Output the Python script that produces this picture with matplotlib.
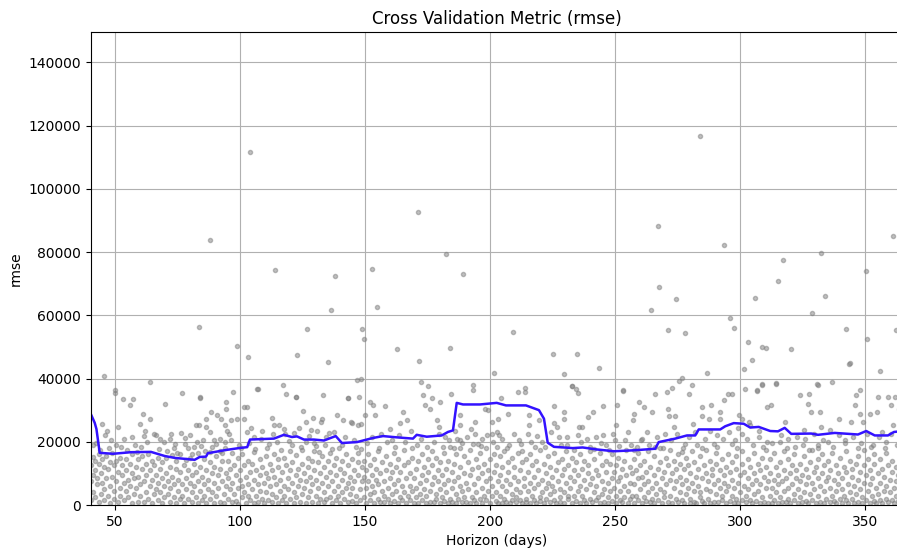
import matplotlib
matplotlib.use("Agg")
import matplotlib.pyplot as plt
import numpy as np

# Rolling rmse along the horizon (days, rmse in thousands)
horizon_days = [40.5, 41.9, 42.6, 43.9, 49.2, 56.4, 64.4, 69.9, 73.9, 81.9, 83.9, 86.4,
                87.2, 94.4, 99.6, 102.9, 104.0, 113.6, 117.6, 120.8, 122.8, 125.6, 129.6,
                133.6, 138.3, 140.8, 146.8, 153.2, 157.2, 162.7, 169.2, 170.7, 174.7,
                180.7, 183.2, 185.2, 186.7, 189.2, 196.0, 202.7, 206.4, 214.4, 219.6,
                221.6, 223.1, 225.6, 233.1, 237.1, 242.4, 249.6, 257.6, 262.8, 266.1,
                267.5, 274.1, 278.8, 282.1, 283.5, 292.1, 294.1, 297.5, 301.5, 304.1,
                307.5, 312.1, 315.2, 317.9, 320.5, 328.5, 331.2, 337.9, 347.2, 350.5,
                353.9, 359.2, 361.6, 364.0]
rolling_rmse_k = [28.5, 26.0, 24.0, 16.5, 16.2, 16.7, 16.8, 15.5, 14.9, 14.3, 15.2, 15.3,
                  16.4, 17.4, 18.0, 18.3, 20.7, 21.0, 22.2, 21.5, 21.7, 20.7, 20.7,
                  20.4, 21.8, 19.6, 19.9, 21.2, 21.8, 21.4, 21.0, 22.2, 21.6,
                  22.0, 23.1, 23.6, 32.3, 31.8, 31.8, 32.3, 31.5, 31.5, 30.0,
                  27.3, 19.7, 18.4, 18.0, 18.2, 17.6, 17.0, 17.3, 17.6, 17.8,
                  19.9, 21.0, 22.0, 22.0, 23.9, 23.9, 24.9, 25.9, 25.7, 24.5,
                  24.7, 23.4, 23.3, 24.4, 22.5, 22.6, 22.2, 22.8, 22.3, 23.4,
                  22.0, 22.0, 23.1, 23.3]

# Individual rmse values, lower band: (horizon, [rmse in thousands])
low_a = [
    (40.5, [1.5, 7.5, 12.8]), (41.2, [4.0, 9.5, 15.2]), (42.0, [2.5, 11.0, 14.0]),
    (42.8, [6.5, 8.5]), (43.5, [0.8, 13.0, 16.0]), (44.3, [3.5, 10.0]), (45.0, [7.0, 14.5]),
    (45.8, [1.5, 5.0, 12.0]), (46.6, [8.5, 15.5]), (47.4, [3.0, 11.5]), (48.2, [0.5, 6.0, 13.5]),
    (49.0, [9.0, 16.5]), (49.8, [2.0, 4.5, 12.5]), (50.6, [7.5, 14.0]), (51.4, [0.8, 10.5]),
    (52.2, [5.5, 15.0, 3.0]), (53.0, [9.5, 12.5]), (53.8, [1.5, 7.0]), (54.6, [4.5, 11.0, 14.5]),
    (55.4, [8.0, 2.5]), (56.2, [6.0, 13.0]), (57.0, [0.5, 10.0, 16.0]), (57.8, [3.5, 8.5]),
    (58.6, [12.0, 5.5]), (59.4, [1.0, 14.5, 9.0]), (60.2, [6.5, 3.0]), (61.0, [11.5, 15.5]),
    (61.8, [0.8, 7.5]), (62.6, [4.0, 13.0, 9.5]), (63.4, [2.0, 16.0]), (64.2, [6.0, 11.0]),
    (65.0, [0.5, 8.0, 14.0]), (65.8, [3.5, 12.5]), (66.6, [5.0, 9.5]), (67.4, [1.5, 15.0, 7.0]),
    (68.2, [11.5, 4.0]), (69.0, [0.7, 8.5, 13.5]), (69.8, [6.0, 2.5]), (70.6, [10.0, 14.8]),
    (71.4, [3.5, 7.5]), (72.2, [1.0, 12.0, 5.5]), (73.0, [9.0, 15.8]), (73.8, [2.5, 6.5]),
    (74.6, [0.5, 11.5, 13.8]), (75.4, [4.5, 8.0]), (76.2, [1.8, 10.5, 16.2]), (77.0, [6.5, 3.0]),
    (77.8, [12.5, 0.6]), (78.6, [8.5, 5.0, 14.2]), (79.4, [2.0, 11.0]), (80.2, [7.0, 15.0]),
    (81.0, [0.8, 4.0, 9.5]), (81.8, [13.0, 6.0]), (82.6, [2.5, 10.5]), (83.4, [0.5, 7.5, 16.5]),
    (84.2, [4.5, 12.0]), (85.0, [1.5, 9.0]), (85.8, [6.5, 14.5, 3.0]), (86.6, [11.0, 0.7]),
    (87.4, [5.0, 8.0]), (88.2, [2.0, 13.5, 16.8]), (89.0, [10.0, 4.0]), (89.8, [0.5, 7.0, 12.0]),
    (90.6, [15.5, 3.0]), (91.4, [5.5, 9.5]), (92.2, [1.0, 11.5, 17.0]), (93.0, [7.5, 14.0]),
    (93.8, [3.5, 0.6]), (94.6, [10.0, 6.0]),
]
low_b = [
    (95.3, [2.0, 8.5, 14.0]), (96.1, [5.0, 11.5]), (96.9, [0.8, 7.0, 16.5]), (97.7, [3.5, 12.5]),
    (98.5, [9.5, 1.2]), (99.3, [5.5, 14.8, 0.4]), (100.1, [8.0, 11.0]), (100.9, [2.5, 6.0, 16.0]),
    (101.7, [12.5, 4.0]), (102.5, [0.7, 9.0]), (103.3, [6.5, 14.0, 3.0]), (104.1, [10.5, 1.5]),
    (104.9, [5.0, 13.0]), (105.7, [0.5, 8.0, 16.8]), (106.5, [3.0, 11.0]), (107.3, [6.5, 1.0]),
    (108.1, [9.5, 14.5, 4.5]), (108.9, [2.0, 12.0]), (109.7, [7.0, 0.6]), (110.5, [4.0, 10.0, 15.5]),
    (111.3, [1.5, 8.5]), (112.1, [6.0, 13.0]), (112.9, [0.8, 3.5, 11.0]), (113.7, [9.0, 16.0]),
    (114.5, [2.5, 6.5]), (115.3, [12.0, 0.5, 14.5]), (116.1, [4.5, 8.0]), (116.9, [1.5, 10.5]),
    (117.7, [6.0, 15.0, 3.0]), (118.5, [0.7, 12.5]), (119.3, [8.5, 5.0]), (120.1, [2.0, 11.0, 17.0]),
    (120.9, [7.0, 13.5]), (121.7, [0.5, 4.0]), (122.5, [9.5, 15.8, 2.5]), (123.3, [6.0, 11.5]),
    (124.1, [1.0, 8.0]), (124.9, [3.5, 13.0, 17.5]), (125.7, [10.0, 5.5]), (126.5, [0.6, 7.5]),
    (127.3, [2.5, 12.0, 15.0]), (128.1, [9.0, 4.5]), (128.9, [1.0, 6.5, 14.0]), (129.7, [11.0, 17.2]),
    (130.5, [3.0, 8.0]), (131.3, [0.5, 5.5, 13.5]), (132.1, [10.0, 2.0]), (132.9, [7.0, 15.5]),
    (133.7, [4.0, 12.0, 0.8]), (134.5, [9.0, 1.8]), (135.3, [6.0, 14.0]), (136.1, [2.5, 10.5, 16.5]),
    (136.9, [0.6, 7.5]), (137.7, [4.5, 12.5]), (138.5, [1.5, 9.5, 15.0]), (139.3, [6.0, 3.0]),
    (140.1, [11.5, 0.5]), (140.9, [8.0, 14.0, 4.0]), (141.7, [2.0, 10.0]), (142.5, [5.5, 16.0]),
    (143.3, [0.8, 7.0, 12.5]), (144.1, [3.5, 9.0]), (144.9, [1.2, 14.5, 5.5]), (145.7, [11.0, 7.5]),
    (146.5, [0.5, 3.0]), (147.3, [9.5, 13.5, 16.5]), (148.1, [5.0, 1.5]), (148.9, [7.5, 12.0]),
]
low_c = [
    (149.7, [2.5, 9.0, 14.0]), (150.5, [0.6, 5.5, 11.0]), (151.3, [7.5, 16.0]), (152.1, [1.5, 3.5, 12.5]),
    (152.9, [9.5, 6.0]), (153.7, [0.5, 14.5, 4.0]), (154.5, [8.0, 11.5]), (155.3, [2.0, 6.5, 17.0]),
    (156.1, [10.0, 1.0]), (156.9, [4.5, 13.5]), (157.7, [0.8, 7.5, 3.0]), (158.5, [11.0, 15.5]),
    (159.3, [5.5, 1.8]), (160.1, [8.5, 13.0, 0.5]), (160.9, [3.5, 10.5]), (161.7, [6.5, 16.5, 1.2]),
    (162.5, [12.0, 4.5]), (163.3, [0.6, 8.0, 14.5]), (164.1, [2.5, 10.5]), (164.9, [6.0, 1.5]),
    (165.7, [12.5, 4.0, 17.5]), (166.5, [8.5, 0.5]), (167.3, [3.0, 13.5]), (168.1, [10.0, 6.0, 1.5]),
    (168.9, [15.0, 4.5]), (169.7, [0.7, 8.5]), (170.5, [2.5, 11.5, 5.5]), (171.3, [14.0, 0.5]),
    (172.1, [7.0, 3.5]), (172.9, [9.5, 16.0, 1.5]), (173.7, [5.0, 12.0]), (174.5, [0.6, 8.0, 2.8]),
    (175.3, [14.5, 10.5]), (176.1, [4.5, 1.0]), (176.9, [6.5, 12.5, 17.0]), (177.7, [0.8, 9.0]),
    (178.5, [3.5, 15.0, 1.8]), (179.3, [7.5, 11.0]), (180.1, [0.5, 5.0, 13.5]), (180.9, [2.5, 9.5]),
    (181.7, [16.5, 6.5, 1.2]), (182.5, [11.5, 4.0]), (183.3, [0.7, 8.0, 14.0]), (184.1, [2.0, 18.5]),
    (184.9, [5.5, 10.5, 1.0]), (185.7, [13.0, 7.5]), (186.5, [0.5, 3.5, 16.0]), (187.3, [9.0, 1.8]),
    (188.1, [6.0, 12.0, 18.0]), (188.9, [0.8, 4.5]), (189.7, [10.0, 15.5, 2.5]), (190.5, [7.0, 1.0]),
    (191.3, [13.5, 5.0]), (192.1, [0.6, 9.5, 17.5]), (192.9, [2.5, 11.5]), (193.7, [6.5, 1.5]),
    (194.5, [14.5, 4.0, 0.5]), (195.3, [8.5, 12.0]), (196.1, [2.0, 16.5]), (196.9, [5.5, 10.0, 0.7]),
    (197.7, [13.0, 3.0]), (198.5, [7.5, 1.5, 18.0]), (199.3, [11.0, 4.5]), (200.1, [0.6, 8.5, 14.5]),
    (200.9, [2.8, 6.0]), (201.7, [16.0, 10.5]), (202.5, [1.2, 4.0, 12.5]), (203.3, [7.5, 0.5]),
]
low_d = [
    (204.1, [3.0, 9.5, 15.5]), (204.9, [0.6, 6.0, 12.0]), (205.7, [2.0, 17.0]), (206.5, [8.0, 4.5, 1.0]),
    (207.3, [13.5, 10.5]), (208.1, [0.5, 6.5]), (208.9, [3.5, 15.0, 1.5]), (209.7, [9.0, 12.0]),
    (210.5, [0.8, 5.0, 2.5]), (211.3, [16.5, 7.5]), (212.1, [1.5, 11.0, 4.0]), (212.9, [13.5, 0.5]),
    (213.7, [8.5, 6.0]), (214.5, [2.0, 14.5, 1.0]), (215.3, [10.5, 4.5]), (216.1, [0.6, 7.0, 16.0]),
    (216.9, [3.0, 12.5]), (217.7, [1.5, 9.0, 5.5]), (218.5, [14.0, 0.7]), (219.3, [6.5, 11.0]),
    (220.1, [2.5, 17.5, 1.2]), (220.9, [8.0, 4.0]), (221.7, [0.5, 13.0]), (222.5, [5.5, 10.0, 2.0]),
    (223.3, [15.5, 7.0]), (224.1, [0.8, 3.5, 12.0]), (224.9, [9.0, 6.0]), (225.7, [1.5, 16.5, 4.5]),
    (226.5, [11.0, 0.5]), (227.3, [7.5, 13.5]), (228.1, [2.5, 5.0, 1.0]), (228.9, [9.5, 14.5]),
    (229.7, [0.6, 4.0, 11.5]), (230.5, [7.0, 17.0]), (231.3, [1.8, 12.5, 3.0]), (232.1, [5.5, 9.0]),
    (232.9, [0.5, 15.0]), (233.7, [2.8, 7.5, 11.0]), (234.5, [13.5, 1.2]), (235.3, [4.5, 9.5]),
    (236.1, [0.7, 6.0, 16.0]), (236.9, [11.5, 3.0]), (237.7, [8.0, 14.0, 1.5]), (238.5, [5.0, 0.5]),
    (239.3, [10.0, 12.5]), (240.1, [2.0, 6.5, 17.0]), (240.9, [0.8, 8.5]), (241.7, [4.0, 14.5]),
    (242.5, [11.0, 1.5, 6.0]), (243.3, [2.5, 9.5]), (244.1, [16.5, 0.5]), (244.9, [7.5, 12.5, 3.5]),
    (245.7, [5.0, 1.0]), (246.5, [10.5, 14.0]), (247.3, [0.6, 7.0, 2.5]), (248.1, [13.0, 4.5]),
    (248.9, [8.5, 16.0, 1.2]), (249.7, [5.5, 10.5]), (250.5, [0.5, 3.0, 12.5]), (251.3, [7.5, 15.0]),
    (252.1, [1.5, 9.0, 4.5]), (252.9, [11.5, 0.8]), (253.7, [6.0, 14.0, 2.5]), (254.5, [9.5, 17.5]),
    (255.3, [0.5, 4.5]), (256.1, [7.0, 12.0, 1.8]), (256.9, [3.0, 10.0]),
]
low_e = [
    (257.7, [0.6, 6.5, 14.5]), (258.5, [3.0, 11.0]), (259.3, [8.5, 1.5, 16.5]), (260.1, [5.0, 12.5]),
    (260.9, [0.5, 9.0]), (261.7, [2.5, 14.0, 6.5]), (262.5, [10.5, 1.2]), (263.3, [4.0, 7.5, 17.0]),
    (264.1, [0.8, 12.0]), (264.9, [5.5, 2.0]), (265.7, [9.5, 15.5, 0.5]), (266.5, [3.5, 7.0]),
    (267.3, [11.5, 1.5]), (268.1, [5.0, 13.5, 18.0]), (268.9, [0.6, 8.5]), (269.7, [2.5, 10.5, 4.0]),
    (270.5, [15.0, 6.5]), (271.3, [1.0, 12.5]), (272.1, [8.0, 3.0, 17.5]), (272.9, [0.5, 10.0]),
    (273.7, [5.5, 14.0]), (274.5, [2.0, 7.5, 11.5]), (275.3, [0.8, 16.0]), (276.1, [4.0, 9.0, 13.0]),
    (276.9, [1.5, 6.5]), (277.7, [11.5, 0.5]), (278.5, [3.5, 8.0, 15.0]), (279.3, [5.5, 12.5]),
    (280.1, [0.7, 10.0, 2.0]), (280.9, [7.0, 17.0]), (281.7, [4.5, 13.5, 1.0]), (282.5, [9.0, 0.5]),
    (283.3, [6.0, 11.5]), (284.1, [2.5, 15.5, 4.0]), (284.9, [8.5, 1.2]), (285.7, [12.5, 0.6]),
    (286.5, [5.0, 10.0, 17.5]), (287.3, [2.0, 7.5]), (288.1, [14.0, 0.5, 4.5]), (288.9, [9.5, 11.5]),
    (289.7, [1.0, 6.5]), (290.5, [3.5, 13.0, 16.5]), (291.3, [8.0, 0.8]), (292.1, [5.5, 11.0]),
    (292.9, [1.5, 2.8, 14.5]), (293.7, [7.0, 9.5]), (294.5, [0.5, 4.5, 12.0]), (295.3, [16.0, 6.0]),
    (296.1, [1.2, 10.5]), (296.9, [3.0, 8.0, 13.5]), (297.7, [0.6, 5.5]), (298.5, [11.5, 15.5, 2.0]),
    (299.3, [7.0, 0.5]), (300.1, [4.0, 9.5]), (300.9, [13.0, 1.5, 17.0]), (301.7, [6.0, 10.5]),
    (302.5, [0.8, 3.0]), (303.3, [8.5, 14.5, 5.0]), (304.1, [1.5, 12.0]), (304.9, [6.5, 0.5]),
    (305.7, [10.0, 3.5, 16.5]), (306.5, [8.0, 1.2]), (307.3, [4.5, 13.0]), (308.1, [0.6, 11.0, 6.5]),
    (308.9, [2.5, 15.0]), (309.7, [9.0, 1.0]), (310.5, [5.5, 12.0, 17.5]), (311.3, [0.5, 7.5]),
]
low_f = [
    (312.1, [3.0, 10.0, 14.5]), (312.9, [0.7, 5.5]), (313.7, [8.0, 1.5, 16.5]), (314.5, [12.0, 4.0]),
    (315.3, [0.5, 6.5, 9.5]), (316.1, [2.5, 13.5]), (316.9, [7.5, 1.0]), (317.7, [4.5, 11.0, 17.0]),
    (318.5, [0.8, 8.5]), (319.3, [2.0, 14.5, 5.5]), (320.1, [10.0, 0.5]), (320.9, [6.5, 12.5]),
    (321.7, [1.5, 3.5, 16.0]), (322.5, [8.5, 11.0]), (323.3, [0.6, 5.0]), (324.1, [13.0, 2.5, 7.5]),
    (324.9, [9.5, 0.8]), (325.7, [4.0, 15.5]), (326.5, [1.2, 6.5, 11.5]), (327.3, [0.5, 9.0]),
    (328.1, [3.5, 13.5]), (328.9, [7.0, 1.5, 17.5]), (329.7, [10.5, 5.0]), (330.5, [0.7, 12.0]),
    (331.3, [3.0, 8.5, 14.5]), (332.1, [1.0, 6.0]), (332.9, [10.0, 16.0]), (333.7, [0.5, 4.5, 12.5]),
    (334.5, [7.5, 2.0]), (335.3, [14.0, 9.0]), (336.1, [0.8, 5.5, 11.0]), (336.9, [3.0, 16.5]),
    (337.7, [8.0, 1.2]), (338.5, [12.5, 4.5, 0.5]), (339.3, [6.5, 10.0]), (340.1, [2.0, 15.0]),
    (340.9, [8.5, 0.6, 5.0]), (341.7, [12.0, 3.0]), (342.5, [1.5, 10.5, 17.0]), (343.3, [6.5, 0.5]),
    (344.1, [4.0, 14.0]), (344.9, [9.0, 1.8, 11.5]), (345.7, [0.6, 6.0]), (346.5, [3.5, 13.0]),
    (347.3, [8.0, 15.5, 1.0]), (348.1, [5.0, 10.5]), (348.9, [0.5, 2.5]), (349.7, [12.5, 7.0, 17.5]),
    (350.5, [1.5, 9.5]), (351.3, [4.5, 14.5]), (352.1, [0.7, 6.5, 11.0]), (352.9, [3.0, 8.5]),
    (353.7, [1.2, 16.0, 13.0]), (354.5, [5.5, 0.5]), (355.3, [10.0, 3.5]), (356.1, [7.0, 14.5, 1.5]),
    (356.9, [0.6, 11.5]), (357.7, [4.5, 9.0]), (358.5, [2.0, 6.0, 16.5]), (359.3, [12.5, 0.8]),
    (360.1, [8.0, 4.0]), (360.9, [1.5, 14.0, 10.5]), (361.7, [5.5, 0.5]), (362.5, [3.0, 12.0, 7.5]),
    (363.3, [9.5, 1.2]), (364.1, [5.0, 16.0]),
]

# Values just around the rolling line: (horizon, rmse in thousands)
edge_pts = [
    (44.0, 17.5), (48.5, 20.5), (52.5, 18.5), (56.8, 21.5), (59.0, 16.8), (63.0, 19.8), (68.0, 20.8),
    (70.8, 17.2), (75.0, 16.5), (78.0, 21.2), (82.8, 20.0), (86.0, 17.0), (88.8, 18.5), (92.8, 16.5),
    (50.5, 19.0), (61.5, 21.8), (73.5, 18.0), (80.8, 16.2), (94.2, 18.0), (46.8, 23.5),
    (96.5, 20.5), (100.5, 18.0), (103.8, 19.5), (106.0, 17.8), (108.5, 21.0), (110.8, 18.0),
    (113.2, 22.5), (116.5, 17.5), (119.8, 20.2), (121.5, 22.8), (124.5, 18.5), (127.8, 21.8),
    (129.5, 19.5), (131.8, 16.8), (134.0, 19.0), (135.8, 22.8), (139.5, 18.0), (142.0, 21.5),
    (145.5, 20.5), (148.5, 17.8), (117.5, 24.0), (104.5, 24.5),
    (150.8, 19.5), (153.0, 21.5), (155.8, 18.0), (158.8, 20.0), (162.0, 18.5), (163.8, 22.0),
    (166.0, 19.8), (169.0, 18.0), (172.5, 21.0), (175.0, 18.5), (177.5, 20.0), (179.8, 22.5),
    (181.2, 18.5), (183.8, 20.5), (186.0, 23.5), (189.0, 19.5), (191.0, 21.5), (192.5, 24.0),
    (196.5, 18.8), (198.8, 22.0), (201.2, 20.0), (202.8, 23.0),
    (205.0, 20.8), (206.8, 18.0), (209.5, 22.5), (213.0, 17.2), (216.5, 20.0), (219.0, 21.8),
    (222.0, 18.5), (224.5, 23.0), (228.5, 19.0), (230.8, 21.5), (233.5, 17.5), (236.5, 19.8),
    (238.8, 21.0), (241.5, 17.8), (244.5, 19.5), (247.8, 17.5), (249.2, 22.5), (251.8, 18.8),
    (254.0, 20.5), (257.5, 17.5),
    (258.8, 18.5), (261.0, 21.0), (263.8, 19.0), (266.8, 21.5), (269.2, 18.0), (272.5, 20.5),
    (275.0, 22.5), (277.2, 18.0), (279.8, 21.5), (283.0, 19.0), (286.0, 21.0), (288.0, 23.5),
    (290.8, 18.5), (293.2, 21.0), (295.8, 23.0), (298.8, 18.0), (302.8, 21.0), (305.2, 19.0),
    (307.8, 23.5), (309.2, 18.5), (281.2, 25.5), (299.2, 24.5),
    (313.0, 19.5), (316.5, 22.0), (318.8, 18.0), (322.8, 21.5), (325.2, 19.0), (327.8, 17.5),
    (329.5, 22.5), (333.2, 20.5), (337.2, 18.5), (339.8, 22.0), (342.0, 19.5), (345.2, 21.5),
    (348.5, 19.5), (351.0, 22.5), (353.2, 19.0), (355.8, 21.5), (358.0, 18.0), (360.5, 22.5),
    (362.8, 19.0), (364.5, 21.0),
]

# Upper band and outliers: (horizon, rmse in thousands)
mid_a = [(45.6, 40.8), (63.9, 39.0), (53.2, 33.5), (56.1, 31.6), (49.9, 36.3), (49.9, 35.3),
         (70.1, 32.1), (76.9, 35.3), (83.9, 34.2), (90.8, 28.6), (86.3, 27.3), (82.3, 25.2),
         (83.5, 25.2), (86.5, 24.7), (92.5, 27.3), (93.9, 25.2), (61.2, 28.9), (63.9, 27.3),
         (60.1, 25.6), (51.2, 24.7), (44.8, 25.6), (65.6, 22.6), (66.5, 22.1), (72.3, 22.3),
         (76.3, 22.8), (71.9, 21.0), (69.6, 20.0), (74.1, 19.4), (77.9, 19.4), (79.2, 17.9),
         (81.6, 18.3), (84.3, 18.8), (85.2, 20.5), (89.6, 20.5), (90.5, 19.4), (91.9, 21.0),
         (93.9, 20.0), (41.2, 18.9), (45.9, 22.1), (57.3, 33.4), (84.0, 33.7), (88.5, 29.5),
         (94.5, 30.5), (95.0, 23.5), (88.0, 23.0), (80.0, 22.0), (62.0, 23.5), (53.5, 21.0),
         (58.0, 19.0), (88.0, 83.8), (83.6, 56.3), (42.5, 19.5), (47.5, 18.0), (55.0, 17.5),
         (67.5, 17.8), (60.5, 18.2)]
mid_b = [(106.9, 36.8), (117.1, 38.1), (118.3, 35.2), (122.3, 34.2), (133.2, 34.7), (143.2, 33.9),
         (97.3, 35.8), (94.3, 32.6), (101.6, 31.0), (102.9, 31.0), (101.6, 27.3), (96.3, 26.8),
         (98.7, 27.1), (102.9, 23.1), (95.6, 22.6), (112.9, 27.6), (113.6, 25.2), (115.6, 25.2),
         (125.2, 29.8), (126.3, 26.3), (129.3, 27.6), (132.3, 26.3), (132.9, 27.3), (128.5, 23.7),
         (130.9, 23.3), (138.9, 28.4), (144.3, 26.3), (144.9, 25.8), (148.3, 25.5), (141.3, 26.8),
         (148.3, 40.0), (147.6, 34.2), (111.6, 19.4), (114.9, 19.8), (120.9, 19.1), (126.3, 20.0),
         (130.3, 18.7), (136.9, 17.6), (140.9, 19.1), (146.3, 18.4), (107.3, 36.6), (122.4, 34.3),
         (104.0, 111.7), (98.8, 50.3), (103.2, 46.8), (114.0, 74.3), (122.8, 47.4), (126.8, 55.7),
         (135.2, 45.2), (136.4, 61.7), (138.0, 72.4), (146.8, 39.5), (143.3, 33.7), (147.3, 25.3),
         (105.5, 21.5), (109.0, 23.5), (118.0, 22.5), (134.5, 21.5), (99.5, 19.0), (123.5, 24.5),
         (137.5, 23.0)]
mid_c = [(172.4, 39.0), (175.3, 37.7), (173.3, 34.7), (176.7, 33.7), (180.0, 32.6), (174.0, 31.6),
         (176.0, 30.3), (193.1, 38.1), (193.1, 36.3), (184.3, 35.2), (152.0, 32.6), (153.3, 31.6),
         (158.0, 31.3), (150.0, 28.4), (154.0, 28.4), (165.3, 29.5), (164.0, 25.8), (166.7, 26.8),
         (178.7, 26.8), (179.7, 24.7), (198.0, 30.5), (199.3, 30.0), (188.0, 28.4), (188.0, 25.2),
         (194.0, 26.3), (194.0, 22.6), (200.7, 26.3), (200.7, 22.6), (186.7, 21.0), (188.0, 20.5),
         (193.3, 19.4), (195.3, 19.4), (149.6, 52.5), (149.0, 55.7), (152.8, 74.6), (154.8, 62.6),
         (162.8, 49.3), (171.2, 92.7), (171.6, 45.5), (182.4, 79.4), (184.0, 49.7), (189.2, 73.0),
         (201.6, 41.7), (156.5, 22.5), (161.0, 20.5), (168.5, 23.5), (171.0, 19.0), (182.0, 21.5),
         (160.0, 24.0), (185.5, 18.0), (197.0, 20.8), (203.0, 18.5)]
mid_d = [(229.7, 41.3), (232.8, 37.7), (234.4, 36.8), (214.1, 37.0), (211.1, 35.8), (204.4, 33.7),
         (253.3, 36.3), (250.7, 31.6), (245.1, 31.2), (225.7, 31.2), (229.7, 29.5), (229.7, 27.3),
         (239.1, 27.9), (241.1, 29.5), (235.7, 24.7), (236.8, 24.7), (235.1, 22.1), (242.4, 21.5),
         (245.1, 22.1), (250.4, 25.2), (257.1, 26.8), (255.1, 23.1), (203.1, 27.3), (207.1, 28.9),
         (203.7, 22.1), (215.7, 28.4), (215.7, 25.2), (215.1, 22.6), (219.7, 26.8), (225.7, 25.8),
         (226.7, 24.7), (211.7, 20.5), (212.4, 19.4), (207.7, 18.9), (246.4, 18.9), (256.4, 18.9),
         (209.1, 54.8), (225.1, 47.7), (234.9, 47.7), (243.7, 43.2), (253.1, 36.2), (232.7, 37.6),
         (235.3, 35.5), (214.0, 35.8), (221.0, 20.0), (231.0, 19.0), (240.0, 18.5), (250.0, 20.5),
         (218.0, 18.2), (227.5, 21.5)]
mid_e = [(276.8, 40.2), (275.5, 39.1), (286.8, 41.8), (272.8, 37.0), (270.8, 35.8), (280.8, 38.1),
         (279.5, 35.2), (265.9, 35.0), (259.5, 32.6), (261.5, 31.0), (257.5, 28.9), (264.8, 29.5),
         (271.2, 30.3), (271.5, 28.1), (274.1, 28.1), (273.5, 24.7), (262.8, 23.1), (270.1, 22.3),
         (284.8, 31.0), (288.5, 31.6), (284.8, 28.1), (287.7, 27.3), (292.1, 29.5), (292.1, 27.3),
         (295.2, 35.2), (296.8, 35.2), (293.5, 33.1), (302.1, 36.8), (306.8, 36.3), (308.8, 37.9),
         (310.8, 31.0), (299.5, 28.4), (300.8, 27.3), (303.5, 26.3), (304.1, 25.2), (307.5, 21.5),
         (296.8, 19.4), (298.1, 20.5), (289.5, 19.4), (284.8, 17.9), (278.1, 19.4), (276.8, 16.8),
         (264.4, 61.7), (267.2, 88.2), (267.6, 68.9), (271.2, 55.3), (274.4, 65.1), (278.0, 54.4),
         (284.0, 116.7), (293.6, 82.2), (296.0, 59.1), (297.6, 56.0), (303.2, 51.5), (301.7, 43.0),
         (304.7, 45.9), (306.0, 65.4), (308.8, 50.0), (310.4, 49.6), (306.7, 36.1), (308.9, 38.2),
         (260.5, 20.5), (266.0, 18.5), (282.0, 23.0), (291.0, 22.0), (301.0, 22.5), (311.0, 20.0)]
mid_f = [(314.5, 38.4), (331.2, 37.9), (336.8, 38.9), (323.9, 34.7), (327.5, 35.2), (327.2, 32.1),
         (312.5, 31.6), (328.5, 29.5), (331.9, 29.5), (347.9, 36.3), (346.5, 34.7), (346.1, 31.6),
         (355.2, 34.2), (359.2, 34.2), (361.9, 34.2), (360.3, 31.6), (351.9, 28.9), (354.9, 29.5),
         (347.9, 28.9), (339.5, 27.3), (344.5, 26.3), (349.2, 26.3), (361.2, 25.2), (317.9, 26.3),
         (325.6, 23.7), (332.5, 24.7), (335.9, 23.7), (341.9, 20.5), (335.2, 20.0), (331.2, 17.9),
         (331.2, 18.9), (315.9, 20.0), (319.2, 21.0), (321.9, 18.4), (352.5, 18.4), (358.5, 20.0),
         (347.2, 17.9), (314.4, 38.5), (330.9, 38.2), (343.7, 44.6), (350.7, 52.4), (315.2, 70.8),
         (317.2, 77.5), (328.8, 60.7), (332.4, 79.7), (334.0, 66.1), (342.4, 55.7), (344.0, 44.9),
         (350.4, 74.0), (356.0, 42.4), (361.2, 85.1), (362.4, 55.3), (320.4, 49.3), (363.5, 30.5),
         (357.0, 23.0), (326.0, 21.0)]

pt_days, pt_rmse = [], []
for band in (low_a, low_b, low_c, low_d, low_e, low_f):
    for day, vals in band:
        pt_days += [day] * len(vals)
        pt_rmse += vals
for band in (edge_pts, mid_a, mid_b, mid_c, mid_d, mid_e, mid_f):
    for day, val in band:
        pt_days.append(day)
        pt_rmse.append(val)
pt_days = np.array(pt_days)
pt_rmse = np.array(pt_rmse) * 1000

fig = plt.figure(figsize=(8.97, 5.5), dpi=100)
ax = fig.add_axes([0.1014, 0.0818, 0.9047, 0.8595])

ax.plot(pt_days, pt_rmse, ".", alpha=0.5, c="gray")
ax.plot(horizon_days, np.array(rolling_rmse_k) * 1000, "-", c="#3312ff", lw=1.8)
ax.grid(True)
ax.set_xlim(40.4, 365)
ax.set_ylim(0, 149500)
ax.set_xlabel("Horizon (days)")
ax.set_ylabel("rmse")
ax.set_title("Cross Validation Metric (rmse)")

fig.savefig("out.png", dpi=100)
